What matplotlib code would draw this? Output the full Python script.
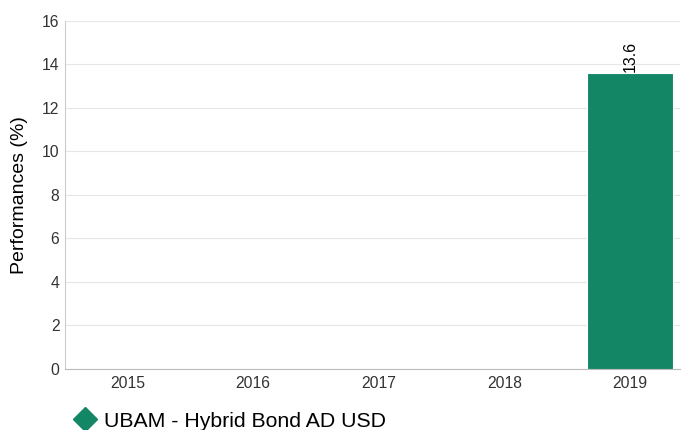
import matplotlib.pyplot as plt
from matplotlib.lines import Line2D

plt.rcParams['font.family'] = ['Liberation Sans', 'DejaVu Sans']

years = ['2015', '2016', '2017', '2018', '2019']
perf = [None, None, None, None, 13.6]
series_name = 'UBAM - Hybrid Bond AD USD'
bar_color = '#138765'

fig = plt.figure(figsize=(6.82, 4.30), dpi=100)
ax = fig.add_axes([0.0953, 0.1419, 0.9017, 0.8093])

xs = [i for i, v in enumerate(perf) if v is not None]
vals = [v for v in perf if v is not None]
ax.bar(xs, vals, width=0.685, color=bar_color, edgecolor='white', linewidth=0.8, zorder=3)
for x, v in zip(xs, vals):
    ax.text(x, v + 0.05, f'{v:.1f}', rotation=90, ha='center', va='bottom',
            fontsize=11.5, color='#000000')

ax.set_xlim(-0.5, 4.4)
ax.set_ylim(0, 16)
ax.set_yticks(range(0, 17, 2))
ax.set_xticks(range(len(years)))
ax.set_xticklabels(years)
ax.grid(axis='y', color='#e6e6e6', linewidth=0.8, zorder=0)
ax.tick_params(length=0, labelsize=11.3, colors='#333333')
ax.tick_params(axis='y', pad=4)
ax.tick_params(axis='x', pad=5)
for s in ['top', 'right']:
    ax.spines[s].set_visible(False)
ax.spines['left'].set_color('#cccccc')
ax.spines['bottom'].set_color('#bbbbbb')
ax.set_ylabel('Performances (%)', fontsize=14, color='#000000', labelpad=10)

# legend drawn by hand below the plot
fig.add_artist(Line2D([85 / 682], [1 - 419 / 430], transform=fig.transFigure,
                      marker='D', color=bar_color, linestyle='none', markersize=12))
fig.text(104 / 682, 1 - 427 / 430, series_name, fontsize=15.3, color='#000000',
         va='baseline', ha='left')

fig.savefig('out.png', dpi=100)
